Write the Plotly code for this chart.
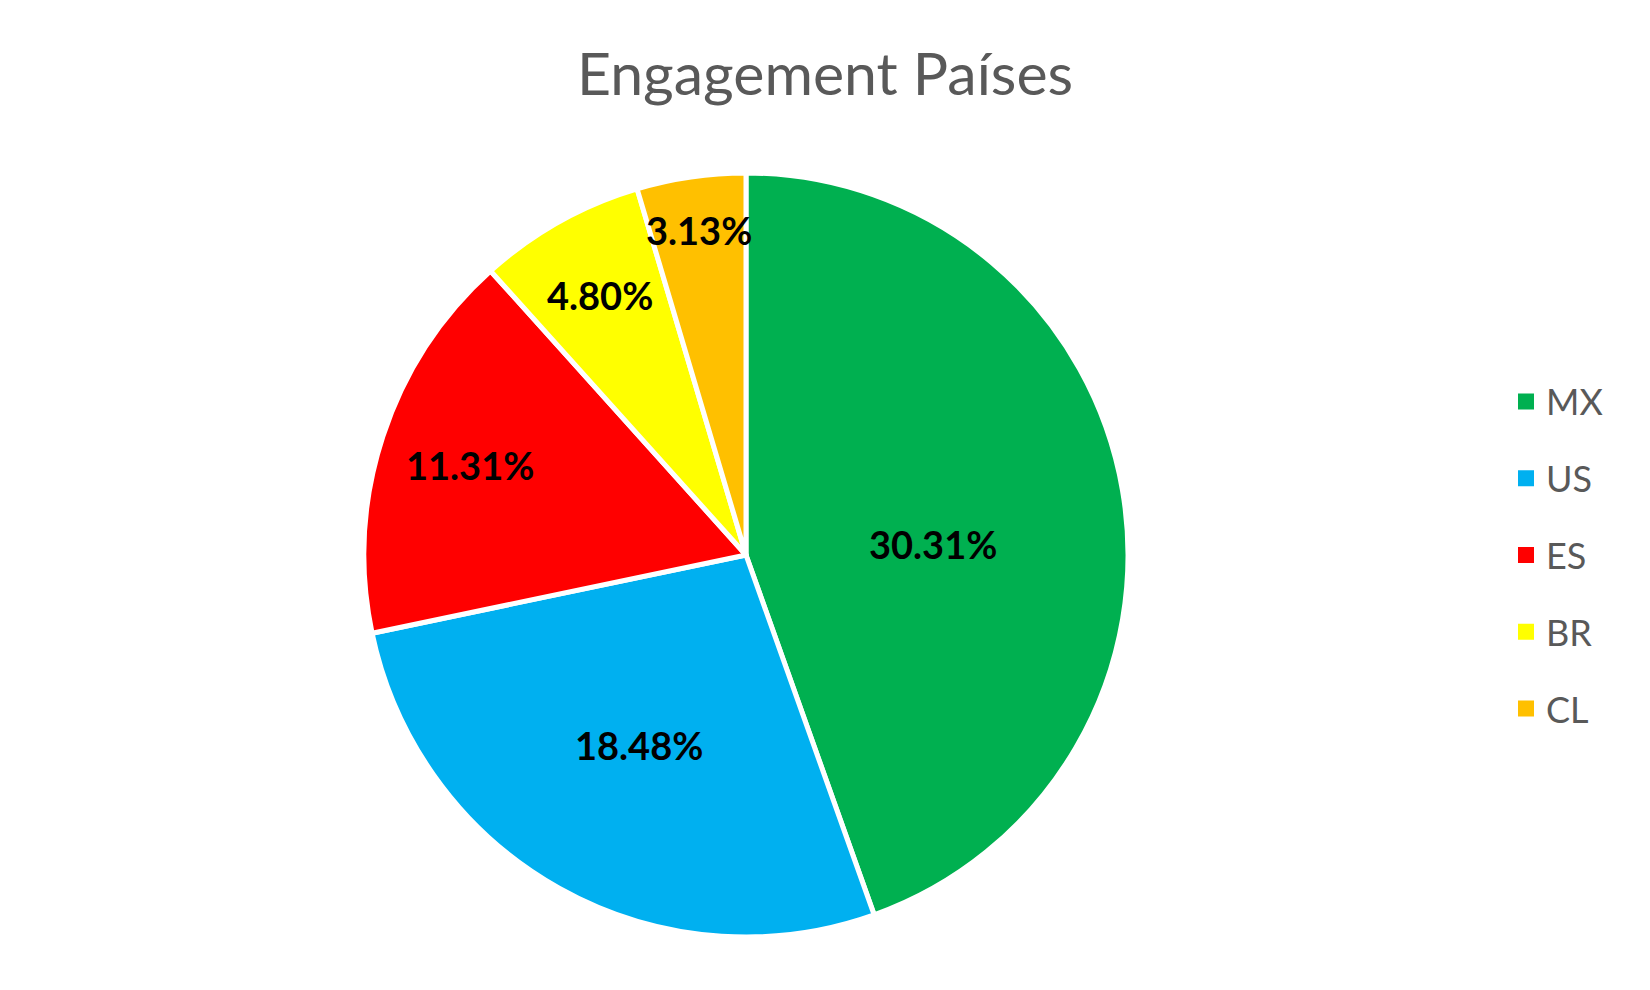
import math
import plotly.graph_objects as go

countries = ["MX", "US", "ES", "BR", "CL"]
engagement = [0.3031, 0.1848, 0.1131, 0.0480, 0.0313]
colors = ["#00B050", "#00B0F0", "#FF0000", "#FFFF00", "#FFC000"]
label_radius = [0.49, 0.57, 0.76, 0.78, 0.86]  # fraction of radius for label placement
label_angle_shift = [6.5, 0, 0, 0, 0]  # degrees, clockwise

W, H = 1650, 990
OFF = 8  # page body margin offset
cx_px, cy_px, r_px = 746 - OFF, 555 - OFF, 382
dom_x = [(cx_px - r_px) / W, (cx_px + r_px) / W]
dom_y = [1 - (cy_px + r_px) / H, 1 - (cy_px - r_px) / H]

FONT = "Lato"
GRAY = "#595959"

fig = go.Figure()
fig.add_trace(go.Pie(
    labels=countries, values=engagement,
    marker=dict(colors=colors, line=dict(color="white", width=5)),
    sort=False, direction="clockwise", rotation=0,
    textinfo="none", hoverinfo="label+value",
    domain=dict(x=dom_x, y=dom_y), showlegend=False,
))

# data labels placed at each slice's mid-angle
total = sum(engagement)
cum = 0.0
annotations = []
for v, rf, sh in zip(engagement, label_radius, label_angle_shift):
    mid = (cum + v / 2) / total * 2 * math.pi + math.radians(sh)
    cum += v
    px = cx_px + rf * r_px * math.sin(mid)
    py = cy_px - rf * r_px * math.cos(mid)
    annotations.append(dict(
        x=px / W, y=1 - py / H, xref="paper", yref="paper",
        text=f"<b>{v:.2%}</b>", showarrow=False,
        font=dict(family=FONT, size=38, color="black"),
        xanchor="center", yanchor="middle",
    ))

# legend entries
for c, col in zip(countries, colors):
    fig.add_trace(go.Scatter(
        x=[None], y=[None], mode="markers", name=c,
        marker=dict(symbol="square", size=16, color=col),
        legendgroup=c, showlegend=True,
    ))

fig.update_layout(
    width=W, height=H,
    margin=dict(l=0, r=0, t=0, b=0),
    paper_bgcolor="white", plot_bgcolor="white",
    title=dict(text="Engagement Países", x=(825 - OFF) / W, xanchor="center",
               y=1 - (74 - OFF) / H, yanchor="middle", yref="container",
               font=dict(family=FONT, size=59, color=GRAY)),
    xaxis=dict(visible=False), yaxis=dict(visible=False),
    legend=dict(x=(1506 - OFF) / W, xanchor="left", y=1 - (555 - OFF) / H, yanchor="middle",
                font=dict(family=FONT, size=36, color=GRAY),
                tracegroupgap=27, itemclick=False, itemdoubleclick=False),
    annotations=annotations,
)

fig.write_html("out.html")
